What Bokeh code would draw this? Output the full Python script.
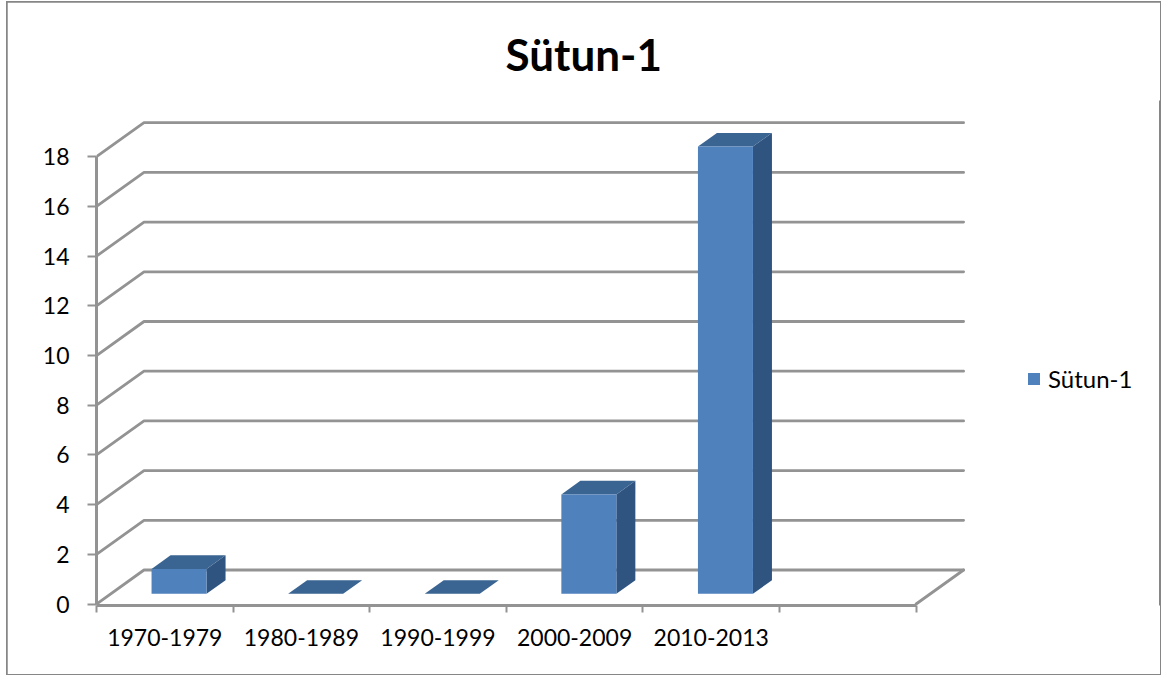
from bokeh.plotting import figure
from bokeh.models import LinearAxis, FixedTicker, Range1d, Title, Legend, LegendItem
from bokeh.embed import file_html
from bokeh.resources import INLINE

# ---- data ----
chart_title = "Sütun-1"
series_name = "Sütun-1"
categories = ["1970-1979", "1980-1989", "1990-1999", "2000-2009", "2010-2013"]
values = [1, 0, 0, 4, 18]
y_ticks = [0, 2, 4, 6, 8, 10, 12, 14, 16, 18]
n_slots = 6  # the axis keeps one empty slot after the last category

# ---- styles / layout ----
FONT = "Lato"
GREY = "#939393"
FRONT, TOP, SIDE = "#4F81BD", "#3A6491", "#2F5480"
W, H = 1153, 672
LEFT, BOTTOM, TOP_PAD = 89, 69, 98
PX_X = 136.6   # px per category slot
PX_Y = 24.85   # px per value unit
DX = 47.5 / PX_X   # wall depth in x units
DY = 34.0 / PX_Y   # wall depth in y units
BAR_W = 55 / PX_X
D0, D1 = 0.3, 0.7  # bar front / back, as a fraction of the depth

frame_w = W - LEFT
frame_h = H - BOTTOM - TOP_PAD
y0 = -1.5 / PX_Y
p = figure(width=W, height=H, output_backend="svg", toolbar_location=None,
           x_range=Range1d(0, frame_w / PX_X),
           y_range=Range1d(y0, y0 + frame_h / PX_Y),
           x_axis_type=None, y_axis_type=None,
           min_border_left=LEFT, min_border_right=0,
           min_border_top=TOP_PAD, min_border_bottom=BOTTOM,
           margin=(2, 0, 0, 7),
           stylesheets=[":host { outline: 2px solid #868686; outline-offset: -1.5px; }"],
           background_fill_color=None, border_fill_color="white",
           outline_line_color=None)
p.grid.visible = False

# title
p.title = Title(text=chart_title, text_font=FONT, text_font_size="44px",
                text_font_style="bold", text_color="black", align="left",
                offset=409, standoff=42)

# walls: back gridlines and the diagonals that join them to the value axis
lw = 2.8
for v in y_ticks:
    p.line([0, DX, n_slots + DX], [v, v + DY, v + DY], line_color=GREY, line_width=lw,
           line_cap="round", line_join="round")
p.line([n_slots, n_slots + DX], [0, DY], line_color=GREY, line_width=lw, line_cap="round")

# bars in oblique projection
centers = [i + 0.5 for i in range(len(values))]
lefts = [c - BAR_W / 2 + D0 * DX for c in centers]
rights = [c + BAR_W / 2 + D0 * DX for c in centers]
base = D0 * DY
tops = [base + v for v in values]
ddx, ddy = (D1 - D0) * DX, (D1 - D0) * DY

top_xs = [[l, r, r + ddx, l + ddx] for l, r in zip(lefts, rights)]
top_ys = [[t, t, t + ddy, t + ddy] for t in tops]
side_xs = [[r, r + ddx, r + ddx, r] for r in rights]
side_ys = [[base, base + ddy, t + ddy, t] for t in tops]

p.patches(side_xs, side_ys, fill_color=SIDE, line_color=None)
p.patches(top_xs, top_ys, fill_color=TOP, line_color=None)
front = p.quad(left=lefts, right=rights, bottom=[base] * len(values), top=tops,
               fill_color=FRONT, line_color=None)

# value axis
yax = LinearAxis(ticker=FixedTicker(ticks=y_ticks), bounds=(0, 18),
                 axis_line_color=GREY, axis_line_width=3,
                 major_tick_line_color=GREY, major_tick_line_width=2,
                 major_tick_out=9, major_tick_in=0, minor_tick_line_color=None,
                 major_label_standoff=18, major_label_text_font=FONT,
                 major_label_text_font_size="23px", major_label_text_color="black")
p.add_layout(yax, "left")

# category axis: names at slot centres, tick marks between slots
xax = LinearAxis(ticker=FixedTicker(ticks=centers, minor_ticks=list(range(n_slots + 1))),
                 bounds=(0, n_slots),
                 major_label_overrides={c: n for c, n in zip(centers, categories)},
                 axis_line_color=GREY, axis_line_width=3,
                 major_tick_line_color=None, major_tick_out=0, major_tick_in=0,
                 minor_tick_line_color=GREY, minor_tick_line_width=2,
                 minor_tick_out=7, minor_tick_in=0,
                 major_label_standoff=16,
                 major_label_text_font=FONT, major_label_text_font_size="23px",
                 major_label_text_color="black")
p.add_layout(xax, "below")

legend = Legend(items=[LegendItem(label=series_name, renderers=[front])],
                location=(930, 212), orientation="vertical",
                glyph_width=15, glyph_height=15, label_standoff=7,
                label_text_font=FONT, label_text_font_size="24px", label_text_color="black",
                label_height=15, padding=0, margin=0, spacing=0,
                border_line_color=None, background_fill_color=None)
p.add_layout(legend, "center")

open("out.html", "w").write(file_html(p, INLINE))
